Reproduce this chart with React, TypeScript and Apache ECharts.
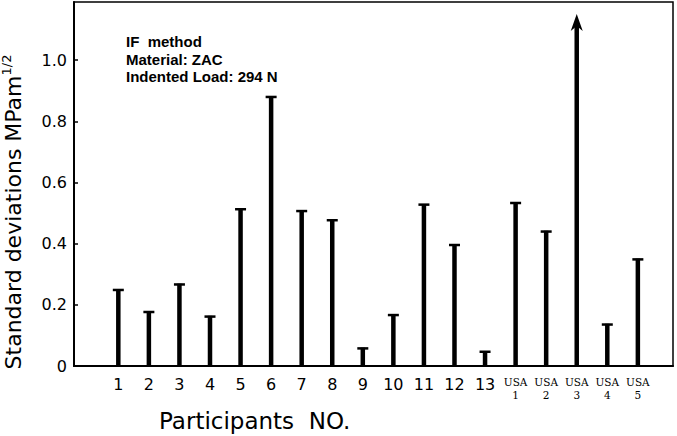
import React, { useEffect, useRef } from "react";
import * as echarts from "echarts";

const participants = ["1", "2", "3", "4", "5", "6", "7", "8", "9", "10", "11", "12", "13", "USA 1", "USA 2", "USA 3", "USA 4", "USA 5"];
const stdDeviations = [0.251, 0.179, 0.269, 0.164, 0.515, 0.882, 0.509, 0.479, 0.06, 0.169, 0.53, 0.398, 0.049, 0.535, 0.442, 1.151, 0.138, 0.351];
const offScale = [false, false, false, false, false, false, false, false, false, false, false, false, false, false, false, true, false, false];
const yTicks = [0, 0.2, 0.4, 0.6, 0.8, 1.0];
const annotationLines = ["IF  method", "Material: ZAC", "Indented Load: 294 N"];

export default function App() {
  const ref = useRef<HTMLDivElement>(null);
  useEffect(() => {
    if (!ref.current) return;
    const chart = echarts.init(ref.current, null, { renderer: "svg" });
    const positions = participants.map((_, i) => i + 1);
    const option: any = {
      animation: false,
      backgroundColor: "#fff",
      grid: {
        left: 74,
        right: 4,
        top: 2,
        bottom: 70,
        show: true,
        borderColor: "#000",
        borderWidth: 1.5,
        backgroundColor: "transparent",
      },
      xAxis: {
        type: "value",
        min: -0.45,
        max: 19.15,
        axisLine: { show: true, onZero: false, lineStyle: { color: "#000", width: 2 } },
        axisTick: { show: false },
        splitLine: { show: false },
        axisLabel: {
          customValues: positions,
          margin: 10,
          color: "#000",
          formatter: (v: number) => {
            const lab = participants[Math.round(v) - 1] || "";
            if (lab.startsWith("USA")) {
              const parts = lab.split(" ");
              return `{u|${parts[0]}}\n{u|${parts[1]}}`;
            }
            return `{n|${lab}}`;
          },
          rich: {
            n: { fontFamily: "DejaVu Sans", fontSize: 16, lineHeight: 16, color: "#000" },
            u: { fontFamily: "DejaVu Serif", fontSize: 10.5, lineHeight: 12.5, color: "#000" },
          },
        },
      },
      yAxis: {
        type: "value",
        min: 0,
        max: 1.19,
        interval: 0.2,
        axisLine: { show: true, onZero: false, lineStyle: { color: "#000", width: 2 } },
        axisTick: { show: true, inside: true, length: 4, lineStyle: { color: "#000", width: 1.5 } },
        splitLine: { show: false },
        axisLabel: {
          showMaxLabel: false,
          margin: 7,
          color: "#000",
          fontFamily: "DejaVu Sans",
          fontSize: 16,
          formatter: (v: number) => {
            const t = yTicks.find((k) => Math.abs(k - v) < 1e-6);
            if (t === undefined) return "";
            return t === 0 ? "0" : t.toFixed(1);
          },
        },
      },
      series: [
        {
          type: "custom",
          clip: false,
          encode: { x: 0, y: 1 },
          data: stdDeviations.map((v, i) => [positions[i], v, offScale[i] ? 1 : 0]),
          renderItem: (params: any, api: any) => {
            const x = api.value(0);
            const v = api.value(1);
            const arrow = api.value(2);
            const base = api.coord([x, 0]);
            const top = api.coord([x, v]);
            const cx = base[0];
            const style = { fill: "#000" };
            if (arrow) {
              return {
                type: "group",
                children: [
                  { type: "rect", shape: { x: cx - 2.25, y: top[1] + 12, width: 4.5, height: base[1] - top[1] - 12 }, style },
                  {
                    type: "polygon",
                    shape: { points: [[cx, top[1]], [cx + 6, top[1] + 17], [cx, top[1] + 12], [cx - 6, top[1] + 17]] },
                    style,
                  },
                ],
              };
            }
            return {
              type: "group",
              children: [
                { type: "rect", shape: { x: cx - 2.25, y: top[1], width: 4.5, height: base[1] - top[1] }, style },
                { type: "rect", shape: { x: cx - 5.5, y: top[1] - 0.5, width: 11, height: 2.5 }, style },
              ],
            };
          },
        },
      ],
      graphic: [
        {
          type: "text",
          x: 126,
          y: 33,
          style: {
            text: annotationLines.join("\n"),
            font: "bold 15px 'Liberation Sans', Arial, sans-serif",
            fill: "#000",
            lineHeight: 17.5,
            verticalAlign: "top",
            align: "left",
          },
        },
        {
          type: "text",
          x: 13,
          y: 212,
          rotation: Math.PI / 2,
          style: {
            text: "{a|Standard deviations MPam}{s|1/2}",
            align: "center",
            verticalAlign: "middle",
            fill: "#000",
            rich: {
              a: { fontFamily: "DejaVu Sans", fontSize: 22, lineHeight: 26, fill: "#000" },
              s: { fontFamily: "DejaVu Sans", fontSize: 13, lineHeight: 13, verticalAlign: "top", fill: "#000" },
            },
          },
        },
        {
          type: "text",
          x: 159,
          y: 421,
          style: {
            text: "Participants  NO.",
            font: "23px 'DejaVu Sans'",
            fill: "#000",
            verticalAlign: "middle",
            align: "left",
          },
        },
      ],
    };
    chart.setOption(option);
    return () => chart.dispose();
  }, []);
  return <div ref={ref} style={{ width: 677, height: 436, position: "absolute", left: 0, top: 0 }} />;
}
